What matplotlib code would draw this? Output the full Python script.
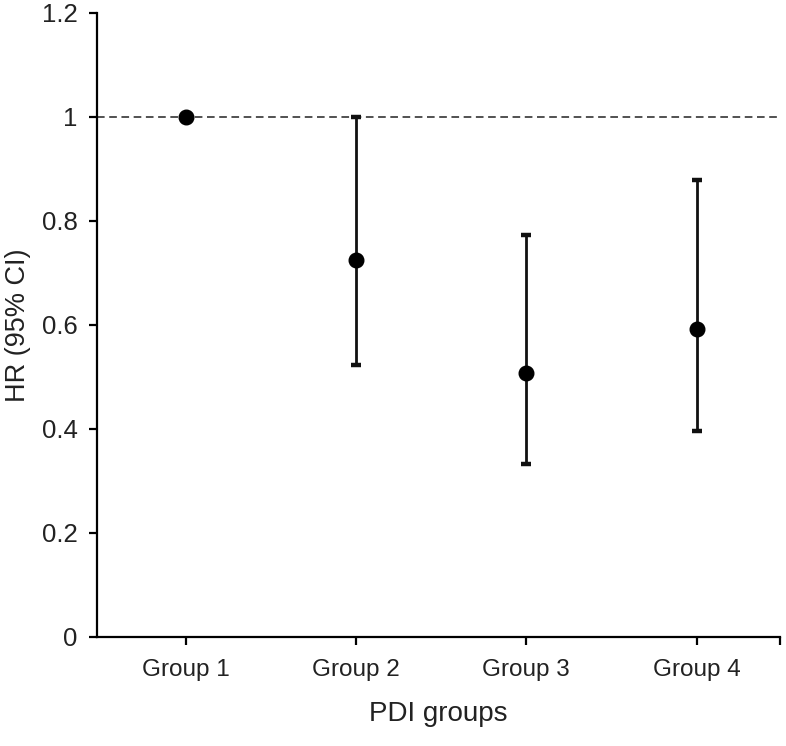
import matplotlib
matplotlib.use("Agg")
import matplotlib.pyplot as plt
import numpy as np

plt.rcParams['font.family'] = ['Liberation Sans', 'DejaVu Sans']

# data
groups = ['Group 1', 'Group 2', 'Group 3', 'Group 4']
hr = [1.0, 0.724, 0.507, 0.591]
ci_low = [1.0, 0.522, 0.332, 0.395]
ci_high = [1.0, 1.0, 0.773, 0.879]
ref_line = 1.0
y_ticks = [0, 0.2, 0.4, 0.6, 0.8, 1.0, 1.2]
y_labels = ['0', '0.2', '0.4', '0.6', '0.8', '1', '1.2']

fig = plt.figure(figsize=(7.86, 7.46), dpi=100)
ax = fig.add_axes([97 / 786, 109 / 746, (780 - 97) / 786, (637 - 12.6) / 746])

x = np.arange(1, len(groups) + 1)
hr = np.array(hr)
yerr = np.vstack([hr - np.array(ci_low), np.array(ci_high) - hr])

ax.axhline(ref_line, color='#222222', lw=1.1, ls=(0, (5, 3)), zorder=1)

# group 1 is the reference, no interval drawn
ax.errorbar(x[1:], hr[1:], yerr=yerr[:, 1:], fmt='none', ecolor='#111111',
            elinewidth=2.0, capsize=3.8, capthick=3.2, zorder=2)
ax.plot(x, hr, 'o', color='black', markersize=10.5, zorder=3)

ax.set_xlim(0.48, 4.49)
ax.set_ylim(0, 1.2)
ax.set_xticks(list(x) + [4.49])
ax.set_xticklabels(groups + [''])
ax.set_yticks(y_ticks)
ax.set_yticklabels(y_labels)

for s in ['top', 'right']:
    ax.spines[s].set_visible(False)
for s in ['left', 'bottom']:
    ax.spines[s].set_linewidth(1.6)
    ax.spines[s].set_color('black')
ax.spines['left'].set_bounds(0, 1.2)

ax.tick_params(axis='both', direction='out', length=6, width=1.6, colors='black')
ax.tick_params(axis='x', labelsize=17.5, pad=10, labelcolor='#222222')
ax.tick_params(axis='y', labelsize=18.5, pad=8, labelcolor='#222222')

ax.set_xlabel('PDI groups', fontsize=20, labelpad=14, color='#222222')
ax.set_ylabel('HR (95% CI)', fontsize=19.5, labelpad=8, color='#222222')

fig.savefig('out.png', dpi=100)
